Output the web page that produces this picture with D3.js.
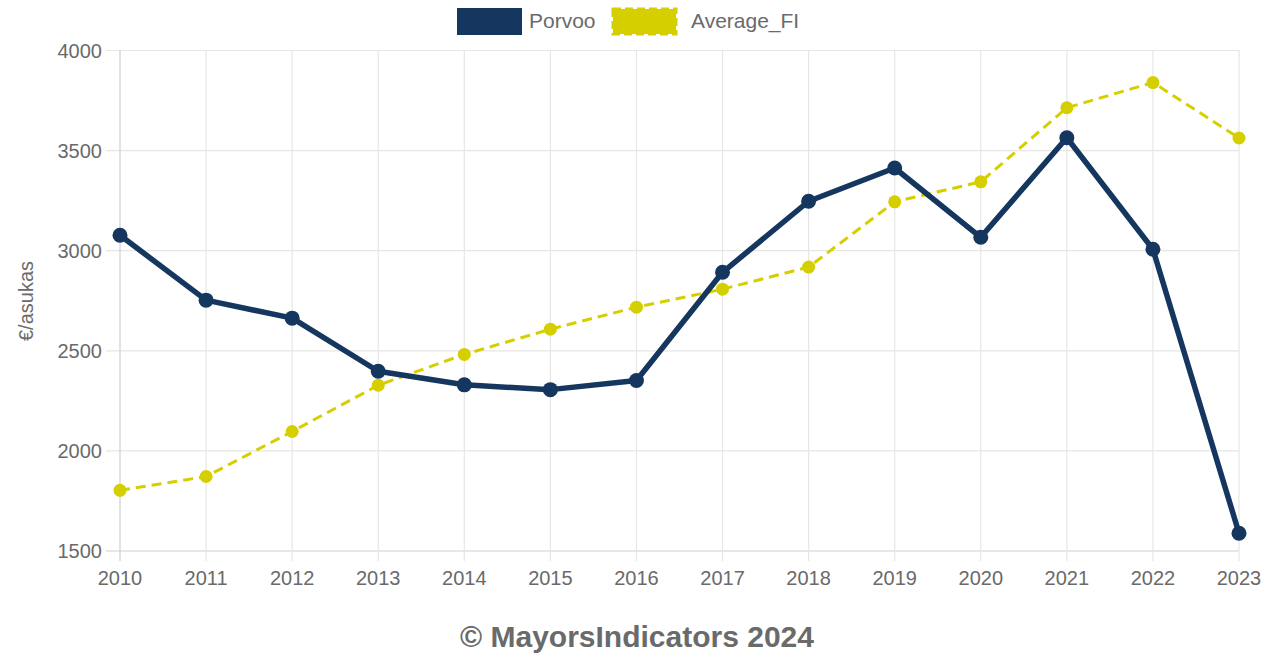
<!DOCTYPE html>
<html><head><meta charset="utf-8">
<script src="https://cdn.jsdelivr.net/npm/d3@7"></script>
<style>body{margin:0;background:#fff;}svg{display:block;font-family:"Liberation Sans",Arial,sans-serif;}</style>
</head><body>
<svg id="c" width="1286" height="653"></svg>
<script>
const years = [2010,2011,2012,2013,2014,2015,2016,2017,2018,2019,2020,2021,2022,2023];
const porvoo = [3077,2753,2663,2398,2330,2306,2352,2892,3247,3413,3067,3564,3007,1589];
const averageFI = [1803,1872,2097,2328,2482,2608,2718,2808,2918,3244,3344,3714,3840,3563];
const yTicks = [1500,2000,2500,3000,3500,4000];
const seriesNames = ["Porvoo","Average_FI"];
const colors = {Porvoo:"#15375f", Average_FI:"#d6cf00"};

const svg = d3.select("#c");
const x = d3.scalePoint().domain(years).range([120,1239]);
const y = d3.scaleLinear().domain([1500,4000]).range([551,50.5]);
const gray = "#6a6a6a";

// horizontal grid
svg.append("g").selectAll("line").data(yTicks).join("line")
  .attr("x1",106).attr("x2",1239).attr("y1",d=>y(d)).attr("y2",d=>y(d))
  .attr("stroke",d=>d===1500?"#cfcfcf":"#e6e6e6").attr("stroke-width",1.2);
// vertical grid
svg.append("g").selectAll("line").data(years).join("line")
  .attr("x1",d=>x(d)).attr("x2",d=>x(d)).attr("y1",50).attr("y2",561)
  .attr("stroke",(d,i)=>i===0?"#cfcfcf":"#e6e6e6").attr("stroke-width",1.2);

// y labels
svg.append("g").selectAll("text").data(yTicks).join("text")
  .attr("x",102).attr("y",d=>y(d)).attr("dy","0.35em").attr("text-anchor","end")
  .attr("fill",gray).attr("font-size",20).text(d=>d);
// x labels
svg.append("g").selectAll("text").data(years).join("text")
  .attr("x",d=>x(d)).attr("y",585).attr("text-anchor","middle")
  .attr("fill",gray).attr("font-size",20).text(d=>d);

// y title
svg.append("text").attr("transform","translate(33,301) rotate(-90)")
  .attr("text-anchor","middle").attr("fill",gray).attr("font-size",20).text("€/asukas");

// lines
const line = d3.line().x((d,i)=>x(years[i])).y(d=>y(d));
svg.append("path").datum(averageFI).attr("d",line).attr("fill","none")
  .attr("stroke",colors.Average_FI).attr("stroke-width",3).attr("stroke-dasharray","10,6");
svg.append("g").selectAll("circle").data(averageFI).join("circle")
  .attr("cx",(d,i)=>x(years[i])).attr("cy",d=>y(d)).attr("r",6.5).attr("fill",colors.Average_FI);
svg.append("path").datum(porvoo).attr("d",line).attr("fill","none")
  .attr("stroke",colors.Porvoo).attr("stroke-width",5.5).attr("stroke-linejoin","round");
svg.append("g").selectAll("circle").data(porvoo).join("circle")
  .attr("cx",(d,i)=>x(years[i])).attr("cy",d=>y(d)).attr("r",7.5).attr("fill",colors.Porvoo);

// legend
const lg = svg.append("g");
lg.append("rect").attr("x",457).attr("y",8).attr("width",65).attr("height",27).attr("fill",colors.Porvoo);
lg.append("text").attr("x",529).attr("y",28).attr("fill",gray).attr("font-size",21).text(seriesNames[0]);
lg.append("rect").attr("x",613).attr("y",9).attr("width",63).attr("height",25)
  .attr("fill",colors.Average_FI).attr("stroke",colors.Average_FI).attr("stroke-width",3).attr("stroke-dasharray","8,4");
lg.append("text").attr("x",691).attr("y",28).attr("fill",gray).attr("font-size",21).text(seriesNames[1]);

// footer
svg.append("text").attr("x",637).attr("y",647).attr("text-anchor","middle")
  .attr("fill",gray).attr("font-size",30).attr("font-weight","bold").text("© MayorsIndicators 2024");
</script>
</body></html>
